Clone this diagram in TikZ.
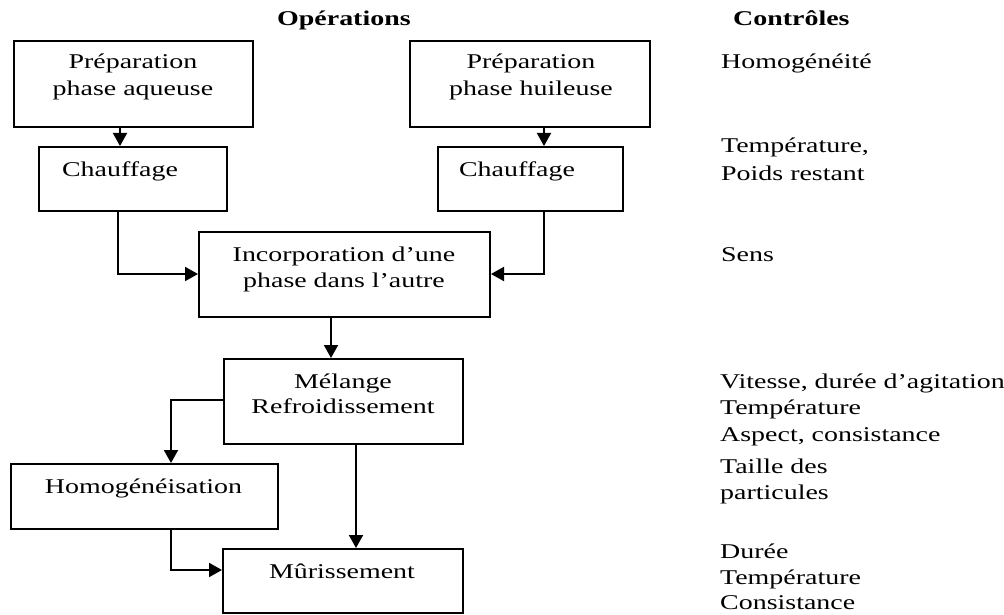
\documentclass[tikz,border=0pt]{standalone}
\usepackage{fontspec}
\setmainfont[FakeStretch=1.33]{Liberation Serif}
\usetikzlibrary{arrows.meta}
\begin{document}
\begin{tikzpicture}[x=1pt,y=-1pt,
  box/.style={draw, line width=2pt, rectangle, anchor=north west, inner sep=0pt},
  txt/.style={anchor=base, inner sep=0pt, font=\fontsize{21pt}{26pt}\selectfont},
  ctl/.style={anchor=base west, inner sep=0pt, font=\fontsize{21pt}{26pt}\selectfont},
  hdr/.style={anchor=base west, inner sep=0pt, font=\fontsize{21pt}{26pt}\selectfont\bfseries},
  arr/.style={line width=2pt, -{Triangle[width=14pt,length=13pt]}}]
\useasboundingbox (0,0) rectangle (1004,615);

% headers
\node[hdr] (hop) at (277,26) {Opérations};
\node[hdr] (hct) at (733,26) {Contrôles};

% boxes
\node[box, minimum width=239pt, minimum height=86pt] (b1) at (13,40) {};
\node[box, minimum width=240pt, minimum height=86pt] (b2) at (409,40) {};
\node[box, minimum width=188pt, minimum height=64pt] (c1) at (38,146) {};
\node[box, minimum width=185pt, minimum height=64pt] (c2) at (437,146) {};
\node[box, minimum width=291pt, minimum height=85pt] (inc) at (198,231) {};
\node[box, minimum width=239pt, minimum height=85pt] (mel) at (223,358) {};
\node[box, minimum width=267pt, minimum height=65pt] (hom) at (10,463) {};
\node[box, minimum width=240pt, minimum height=64pt] (mur) at (222,548) {};

% box texts
\node[txt] (t1a) at (133,69) {Préparation};
\node[txt] (t1b) at (133,96) {phase aqueuse};
\node[txt] (t2a) at (531,69) {Préparation};
\node[txt] (t2b) at (531,96) {phase huileuse};
\node[txt] (tc1) at (120,176) {Chauffage};
\node[txt] (tc2) at (517,176) {Chauffage};
\node[txt] (tia) at (344,261) {Incorporation d’une};
\node[txt] (tib) at (344,287) {phase dans l’autre};
\node[txt] (tma) at (343,388) {Mélange};
\node[txt] (tmb) at (343,413) {Refroidissement};
\node[txt] (th) at (143.5,493) {Homogénéisation};
\node[txt] (tmu) at (342,578) {Mûrissement};

% controls column
\node[ctl] (k1) at (721,69) {Homogénéité};
\node[ctl] (k2) at (721,153) {Température,};
\node[ctl] (k3) at (721,180) {Poids restant};
\node[ctl] (k4) at (721,261) {Sens};
\node[ctl] (k5) at (720,388) {Vitesse, durée d’agitation};
\node[ctl] (k6) at (720,414) {Température};
\node[ctl] (k7) at (720,441) {Aspect, consistance};
\node[ctl] (k8) at (720,473) {Taille des};
\node[ctl] (k9) at (720,499) {particules};
\node[ctl] (k10) at (720,558) {Durée};
\node[ctl] (k11) at (720,584) {Température};
\node[ctl] (k12) at (720,609) {Consistance};

% connector guide coordinates
\coordinate (x1) at (120,0);
\coordinate (x2) at (544,0);
\coordinate (x3) at (118,0);
\coordinate (y3) at (0,274);
\coordinate (x4) at (331,0);
\coordinate (x5) at (171,0);
\coordinate (y5) at (0,400);
\coordinate (x6) at (356,0);
\coordinate (y6) at (0,570);

% connectors
\draw[arr] (x1 |- b1.south) -- (x1 |- c1.north);
\draw[arr] (x2 |- b2.south) -- (x2 |- c2.north);
\draw[arr] (x3 |- c1.south) -- (x3 |- y3) -- (inc.west |- y3);
\draw[arr] (x2 |- c2.south) -- (x2 |- y3) -- (inc.east |- y3);
\draw[arr] (x4 |- inc.south) -- (x4 |- mel.north);
\draw[arr] (mel.west |- y5) -- (x5 |- y5) -- (x5 |- hom.north);
\draw[arr] (x6 |- mel.south) -- (x6 |- mur.north);
\draw[arr] (x5 |- hom.south) -- (x5 |- y6) -- (mur.west |- y6);
\end{tikzpicture}
\end{document}
